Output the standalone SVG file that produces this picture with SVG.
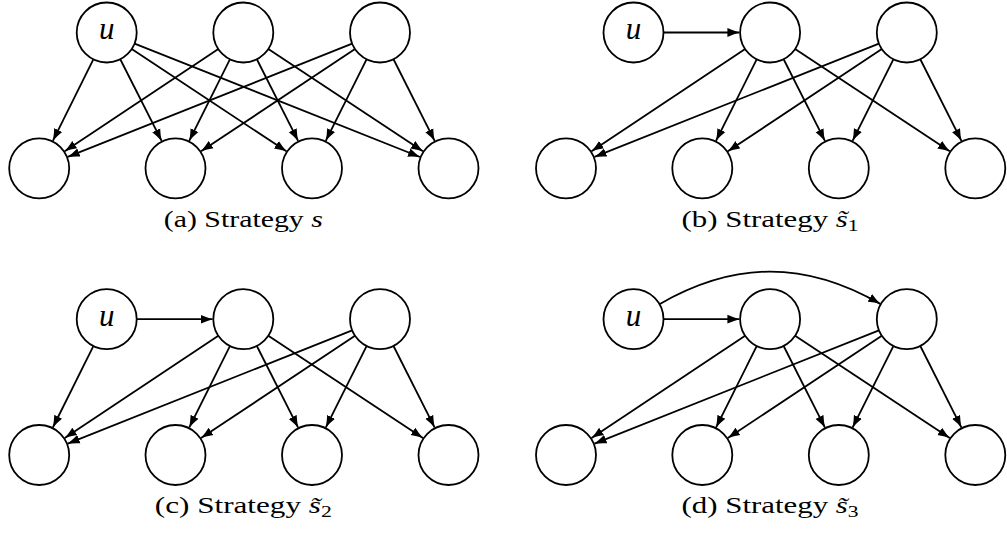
<svg xmlns="http://www.w3.org/2000/svg" width="1007" height="538" viewBox="0 0 1007 538">
<style>
  .node circle { fill: #fff; stroke: #000; stroke-width: 1.8; }
  .lbl { font-family: "Liberation Serif", serif; font-style: italic; font-size: 31px; text-anchor: middle; fill: #000; }
  .edges path { fill: none; stroke: #000; stroke-width: 1.8; marker-end: url(#arr); }
  .cap { font-family: "Liberation Serif", serif; font-size: 23px; text-anchor: middle; fill: #000; }
  .it { font-style: italic; }
</style>
<defs>
  <marker id="arr" markerUnits="userSpaceOnUse" markerWidth="13" markerHeight="10" refX="12" refY="5" orient="auto" viewBox="0 0 13 10">
    <path d="M0,0.6 Q6,3.3 12,5 Q6,6.7 0,9.4 z" fill="#000"/>
  </marker>
</defs>
<rect width="1007" height="538" fill="#fff"/>

<!-- Panel (a) -->
<g id="panel-a">
  <g id="a-edges" class="edges">
    <path d="M93.35,59.37 L52.86,140.81"/>
    <path d="M120.26,59.26 L161.62,140.91"/>
    <path d="M131.72,49.05 L286.40,151.36"/>
    <path d="M134.58,43.58 L419.97,156.97"/>
    <path d="M218.32,49.12 L64.76,151.29"/>
    <path d="M229.90,59.34 L189.21,140.83"/>
    <path d="M256.84,59.27 L298.14,140.91"/>
    <path d="M268.32,49.06 L422.90,151.36"/>
    <path d="M352.13,43.61 L67.72,156.93"/>
    <path d="M355.01,49.10 L201.08,151.32"/>
    <path d="M366.57,59.33 L325.74,140.85"/>
    <path d="M393.51,59.28 L434.67,140.89"/>
  </g>
  <g id="a-u" class="node"><circle cx="106.7" cy="32.5" r="30"/><text class="lbl" x="106.7" y="39">u</text></g>
  <g id="a-t2" class="node"><circle cx="243.3" cy="32.5" r="30"/></g>
  <g id="a-t3" class="node"><circle cx="380" cy="32.5" r="30"/></g>
  <g id="a-b1" class="node"><circle cx="39.2" cy="168.3" r="30"/></g>
  <g id="a-b2" class="node"><circle cx="175.5" cy="168.3" r="30"/></g>
  <g id="a-b3" class="node"><circle cx="312" cy="168.3" r="30"/></g>
  <g id="a-b4" class="node"><circle cx="448.5" cy="168.3" r="30"/></g>
  <text class="cap" x="243.3" y="226.5" textLength="159" lengthAdjust="spacingAndGlyphs">(a) Strategy <tspan class="it">s</tspan></text>
</g>

<!-- Panel (b) -->
<g id="panel-b" transform="translate(526.8,0)">
  <g id="b-edges" class="edges">
    <path d="M136.7,32.5 L212.6,32.5"/>
    <path d="M218.32,49.12 L64.76,151.29"/>
    <path d="M229.90,59.34 L189.21,140.83"/>
    <path d="M256.84,59.27 L298.14,140.91"/>
    <path d="M268.32,49.06 L422.90,151.36"/>
    <path d="M352.13,43.61 L67.72,156.93"/>
    <path d="M355.01,49.10 L201.08,151.32"/>
    <path d="M366.57,59.33 L325.74,140.85"/>
    <path d="M393.51,59.28 L434.67,140.89"/>
  </g>
  <g id="b-u" class="node"><circle cx="106.7" cy="32.5" r="30"/><text class="lbl" x="106.7" y="39">u</text></g>
  <g id="b-t2" class="node"><circle cx="243.3" cy="32.5" r="30"/></g>
  <g id="b-t3" class="node"><circle cx="380" cy="32.5" r="30"/></g>
  <g id="b-b1" class="node"><circle cx="39.2" cy="168.3" r="30"/></g>
  <g id="b-b2" class="node"><circle cx="175.5" cy="168.3" r="30"/></g>
  <g id="b-b3" class="node"><circle cx="312" cy="168.3" r="30"/></g>
  <g id="b-b4" class="node"><circle cx="448.5" cy="168.3" r="30"/></g>
  <text class="cap" x="243.3" y="226.5" textLength="177" lengthAdjust="spacingAndGlyphs">(b) Strategy <tspan class="it">s̃</tspan><tspan font-size="16" dy="4">1</tspan></text>
</g>

<!-- Panel (c) -->
<g id="panel-c" transform="translate(0,286.7)">
  <g id="c-edges" class="edges">
    <path d="M136.7,32.5 L212.6,32.5"/>
    <path d="M93.35,59.37 L52.86,140.81"/>
    <path d="M218.32,49.12 L64.76,151.29"/>
    <path d="M229.90,59.34 L189.21,140.83"/>
    <path d="M256.84,59.27 L298.14,140.91"/>
    <path d="M268.32,49.06 L422.90,151.36"/>
    <path d="M352.13,43.61 L67.72,156.93"/>
    <path d="M355.01,49.10 L201.08,151.32"/>
    <path d="M366.57,59.33 L325.74,140.85"/>
    <path d="M393.51,59.28 L434.67,140.89"/>
  </g>
  <g id="c-u" class="node"><circle cx="106.7" cy="32.5" r="30"/><text class="lbl" x="106.7" y="39">u</text></g>
  <g id="c-t2" class="node"><circle cx="243.3" cy="32.5" r="30"/></g>
  <g id="c-t3" class="node"><circle cx="380" cy="32.5" r="30"/></g>
  <g id="c-b1" class="node"><circle cx="39.2" cy="168.3" r="30"/></g>
  <g id="c-b2" class="node"><circle cx="175.5" cy="168.3" r="30"/></g>
  <g id="c-b3" class="node"><circle cx="312" cy="168.3" r="30"/></g>
  <g id="c-b4" class="node"><circle cx="448.5" cy="168.3" r="30"/></g>
  <text class="cap" x="243.3" y="226.5" textLength="177" lengthAdjust="spacingAndGlyphs">(c) Strategy <tspan class="it">s̃</tspan><tspan font-size="16" dy="4">2</tspan></text>
</g>

<!-- Panel (d) -->
<g id="panel-d" transform="translate(526.8,286.7)">
  <g id="d-edges" class="edges">
    <path d="M136.7,32.5 L212.6,32.5"/>
    <path d="M132.68,17.5 C207.6,-25.75 278.5,-26.1 353.41,17.15"/>
    <path d="M218.32,49.12 L64.76,151.29"/>
    <path d="M229.90,59.34 L189.21,140.83"/>
    <path d="M256.84,59.27 L298.14,140.91"/>
    <path d="M268.32,49.06 L422.90,151.36"/>
    <path d="M352.13,43.61 L67.72,156.93"/>
    <path d="M355.01,49.10 L201.08,151.32"/>
    <path d="M366.57,59.33 L325.74,140.85"/>
    <path d="M393.51,59.28 L434.67,140.89"/>
  </g>
  <g id="d-u" class="node"><circle cx="106.7" cy="32.5" r="30"/><text class="lbl" x="106.7" y="39">u</text></g>
  <g id="d-t2" class="node"><circle cx="243.3" cy="32.5" r="30"/></g>
  <g id="d-t3" class="node"><circle cx="380" cy="32.5" r="30"/></g>
  <g id="d-b1" class="node"><circle cx="39.2" cy="168.3" r="30"/></g>
  <g id="d-b2" class="node"><circle cx="175.5" cy="168.3" r="30"/></g>
  <g id="d-b3" class="node"><circle cx="312" cy="168.3" r="30"/></g>
  <g id="d-b4" class="node"><circle cx="448.5" cy="168.3" r="30"/></g>
  <text class="cap" x="243.3" y="226.5" textLength="177" lengthAdjust="spacingAndGlyphs">(d) Strategy <tspan class="it">s̃</tspan><tspan font-size="16" dy="4">3</tspan></text>
</g>
</svg>
